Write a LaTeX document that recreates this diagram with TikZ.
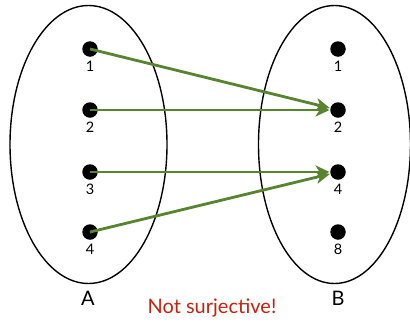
\documentclass[tikz,border=0pt]{standalone}
\usepackage{fontspec}
\setmainfont{Lato}
\usetikzlibrary{arrows.meta}
\definecolor{arrowgreen}{RGB}{88,132,48}
\definecolor{notred}{RGB}{192,36,16}
\begin{document}
\begin{tikzpicture}[x=1pt,y=-1pt,
  dot/.style={circle,fill=black,inner sep=0pt,minimum size=15.5pt},
  lbl/.style={font=\fontsize{14.5}{14.5}\selectfont,inner sep=0pt},
  setname/.style={font=\fontsize{20}{20}\selectfont,inner sep=0pt},
  setshape/.style={draw=black,line width=1.4pt},
  maparrow/.style={draw=arrowgreen,line width=2.8pt,-{Stealth[length=14pt,width=13pt,inset=4pt]},shorten >=0.5pt}]
\useasboundingbox (0,0) rectangle (410,322);
\draw[setshape] (88.5,144.5) ellipse [x radius=78.5,y radius=139];
\draw[setshape] (334.5,144.5) ellipse [x radius=76,y radius=139];
\foreach \n/\y/\t in {1/49/1,2/110/2,3/172/3,4/232/4}{
  \node[dot] (a\n) at (90,\y) {};
  \node[lbl] (la\n) at (90,\y+17) {\t};
}
\foreach \n/\y/\t in {1/49/1,2/110/2,4/172/4,8/232/8}{
  \node[dot] (b\n) at (338,\y) {};
  \node[lbl] (lb\n) at (338,\y+17) {\t};
}
\node[setname] (A) at (88,298) {A};
\node[setname] (B) at (338,298) {B};
\node[font=\fontsize{20}{20}\selectfont,text=notred,inner sep=0pt] (msg) at (212,308) {Not surjective!};
\draw[maparrow] (a1.center) -- (b2);
\draw[maparrow] (a2.center) -- (b2);
\draw[maparrow] (a3.center) -- (b4);
\draw[maparrow] (a4.center) -- (b4);
\end{tikzpicture}
\end{document}
